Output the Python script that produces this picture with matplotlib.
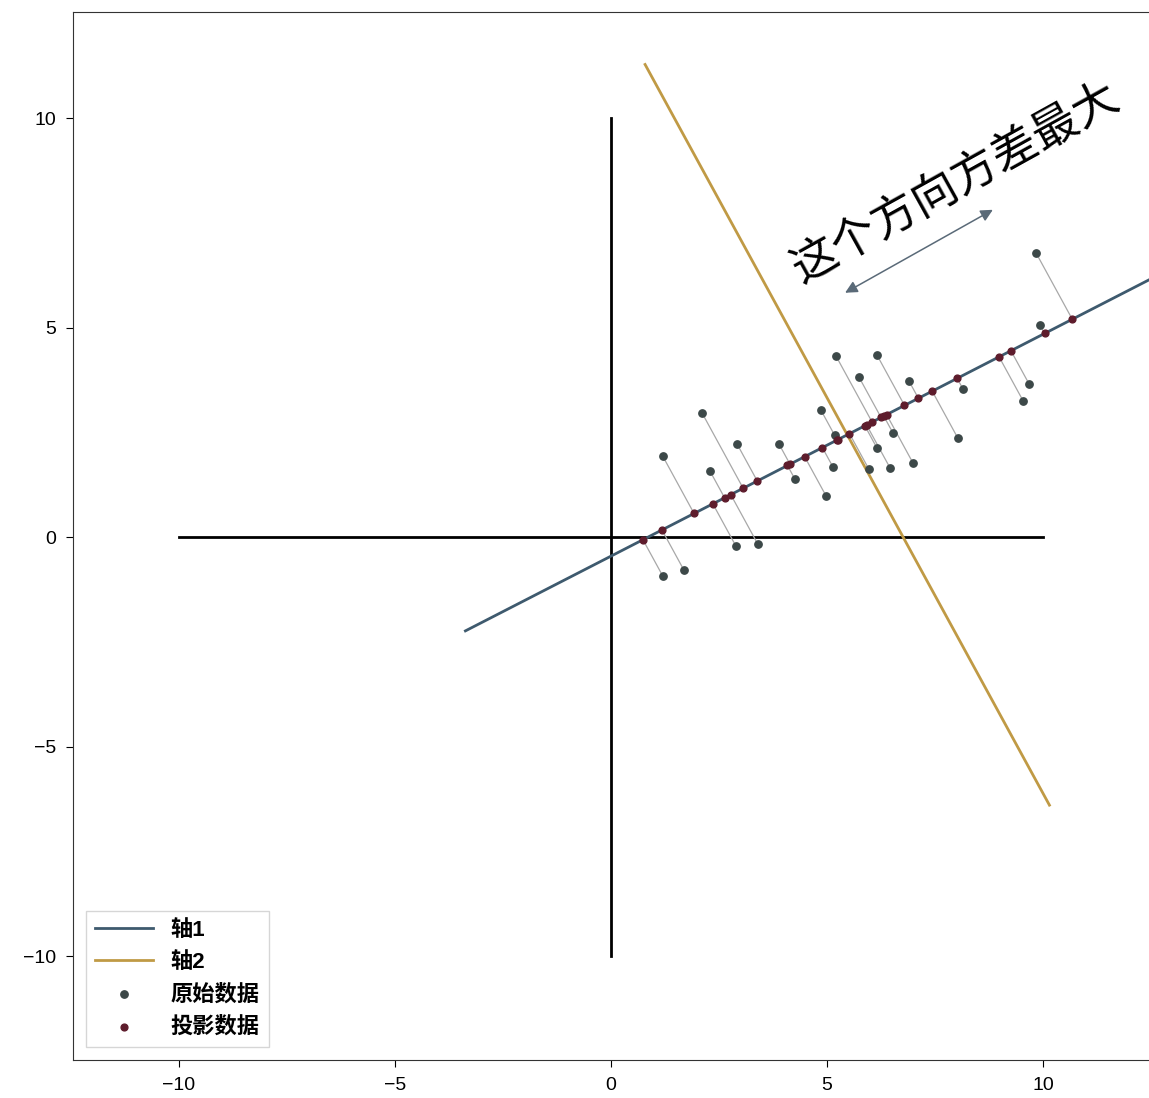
import numpy as np
import matplotlib
matplotlib.use("Agg")
import matplotlib.pyplot as plt

plt.rcParams['font.family'] = ['Liberation Sans', 'Noto Sans CJK SC', 'DejaVu Sans']
plt.rcParams['axes.unicode_minus'] = True

# original data points
data_x = [1.20, 2.11, 2.29, 2.92, 1.20, 1.69, 2.89, 3.40, 3.89, 4.26,
          4.98, 5.14, 4.86, 5.19, 5.21, 6.16, 5.74, 6.90, 6.53, 6.16,
          5.97, 6.46, 6.99, 8.15, 8.03, 9.54, 9.68, 9.84, 9.93]
data_y = [1.93, 2.96, 1.58, 2.22, -0.93, -0.79, -0.21, -0.17, 2.22, 1.38,
          0.98, 1.67, 3.03, 2.43, 4.32, 4.34, 3.82, 3.72, 2.48, 2.12,
          1.62, 1.65, 1.77, 3.53, 2.36, 3.25, 3.65, 6.78, 5.06]

# principal axes
axis_center = [5.47, 2.44]
axis_angle_deg = 27.9
axis_half_len = 10.0

# reference cross
cross_range = [-10, 10]

legend_labels = ['轴1', '轴2', '原始数据', '投影数据']
annot_text = '这个方向方差最大'
arrow_start = [5.42, 5.83]
arrow_end = [8.84, 7.81]
ticks = [-10, -5, 0, 5, 10]

fig = plt.figure(figsize=(11.49, 10.98), dpi=100)
ax = fig.add_axes([73/1149, 1 - 1060/1098, 1078/1149, 1048/1098])
ax.set_xlim(-12.45, 12.50)
ax.set_ylim(-12.48, 12.53)
for s in ax.spines.values():
    s.set_color('#333333')

# reference cross
ax.plot(cross_range, [0, 0], color='black', lw=2, zorder=2)
ax.plot([0, 0], cross_range, color='black', lw=2, zorder=2)

c = np.array(axis_center)
th = np.deg2rad(axis_angle_deg)
v1 = np.array([np.cos(th), np.sin(th)])
v2 = np.array([np.sin(th), -np.cos(th)])
ts = np.array([-axis_half_len, axis_half_len])
p1 = c[None, :] + ts[:, None] * v1[None, :]
p2 = c[None, :] + ts[:, None] * v2[None, :]
ax.plot(p1[:, 0], p1[:, 1], color='#3e5a6e', lw=2, zorder=3, label=legend_labels[0])
ax.plot(p2[:, 0], p2[:, 1], color='#c09a45', lw=2, zorder=3, label=legend_labels[1])

pts = np.column_stack([data_x, data_y])
t = (pts - c) @ v1
proj = c + t[:, None] * v1[None, :]
for (x0, y0), (x1, y1) in zip(pts, proj):
    ax.plot([x0, x1], [y0, y1], color='#a8a8a8', lw=0.9, zorder=2.5)

ax.scatter(pts[:, 0], pts[:, 1], s=28, color='#3c4848', zorder=4, label=legend_labels[2])
ax.scatter(proj[:, 0], proj[:, 1], s=24, color='#5e1c2c', zorder=4, label=legend_labels[3])

ax.annotate('', xy=arrow_end, xytext=arrow_start,
            arrowprops=dict(arrowstyle='<|-|>', color='#5a6a78', lw=1.1,
                            mutation_scale=18, shrinkA=0, shrinkB=0))
ax.text(7.98, 8.45, annot_text, fontsize=33, rotation=29, rotation_mode='anchor',
        ha='center', va='center', color='black', fontweight='medium',
        family=['Noto Sans CJK SC'])

ax.set_xticks(ticks)
ax.set_yticks(ticks)
ax.tick_params(labelsize=14, length=5, pad=7)

leg = ax.legend(loc='lower left', fontsize=16, frameon=True, fancybox=False,
                edgecolor='#cccccc', borderaxespad=0.6, handlelength=2.6,
                labelspacing=0.5, prop={'weight': 'bold', 'size': 16})
leg.get_frame().set_linewidth(1.0)

fig.savefig('out.png', dpi=100)
